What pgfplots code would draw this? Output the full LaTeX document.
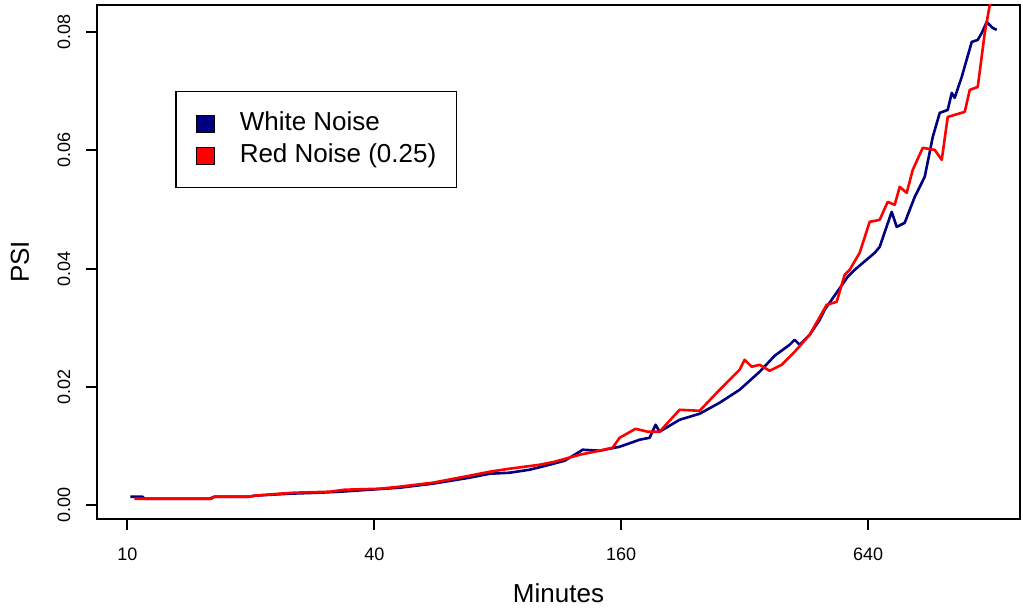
\documentclass[border=0pt]{standalone}
\usepackage{fontspec}
\setmainfont{Liberation Sans}
\usepackage{pgfplots}
\pgfplotsset{compat=1.18}
\definecolor{navy}{RGB}{0,0,128}
\definecolor{rred}{RGB}{255,0,0}
\begin{document}
\begin{tikzpicture}
\begin{axis}[name=ax, scale only axis, width=461.5pt, height=257pt,
  xmode=log, log basis x=2, xmin=8.43, xmax=1502, ymin=-0.0023, ymax=0.08456,
  xtick={10,40,160,640}, xticklabels={10,40,160,640}, minor xtick={},
  ytick={0,0.02,0.04,0.06,0.08}, yticklabels={0.00,0.02,0.04,0.06,0.08},
  scaled y ticks=false,
  tick pos=left, tick align=outside, major tick length=5.5pt,
  axis line style={line width=1pt},
  every tick/.style={black, line width=1pt},
  tick label style={font=\fontsize{9}{10}\selectfont},
  /pgf/number format/assume math mode=true,
  xticklabel style={anchor=center, yshift=-12pt},
  yticklabel style={xshift=-11pt, rotate=90, anchor=center},
  label style={font=\fontsize{13}{15}\selectfont},
  xlabel={Minutes}, ylabel={PSI},
  xlabel style={at={(axis description cs:0.5,-0.144)}, anchor=center},
  ylabel style={at={(axis description cs:-0.0834,0.5)}, anchor=center},
  legend style={at={(rel axis cs:0.0845,0.8327)}, anchor=north west,
    draw=black, line width=0.75pt, inner xsep=10pt, inner ysep=10pt,
    font=\fontsize{13}{15}\selectfont, row sep=4pt, column sep=12.5pt,
    nodes={inner sep=0pt, text height=9.3pt, text depth=2.7pt}},
  legend cell align=left,
  clip=true,
]
\addplot[navy, line width=1.3pt, line join=round,
  legend image code/.code={\draw[fill=navy, draw=black, line width=0.5pt] (0pt,-4.3pt) rectangle (9pt,4.3pt);}]
coordinates {
(10.17,0.00147) (10.88,0.00147) (11.00,0.00113) (15.85,0.00113) (16.30,0.00147)
(19.84,0.00147) (20.41,0.00164) (24.84,0.00198) (29.40,0.00215) (32.90,0.00231)
(38.94,0.00265) (46.09,0.00299) (55.47,0.00367) (68.28,0.00468) (76.40,0.00535)
(85.48,0.00552) (95.64,0.00603) (107.0,0.00687) (116.4,0.00755) (126.7,0.00907)
(128.8,0.00941) (141.7,0.00924) (158.6,0.00991) (177.5,0.01110) (187.7,0.01143)
(194.1,0.01363) (198.5,0.01245) (222.1,0.01447) (248.5,0.01549) (278.1,0.01735)
(311.1,0.01954) (348.1,0.02258) (378.7,0.02528) (411.9,0.02714) (423.7,0.02799)
(435.8,0.02714) (461.0,0.02883) (487.6,0.03136) (501.5,0.03305) (570.7,0.03863)
(593.6,0.03981) (664.2,0.04268) (683.1,0.04369) (730.8,0.04961) (751.6,0.04707)
(786.2,0.04775) (831.7,0.05214) (879.7,0.05552) (920.2,0.06227) (957.0,0.06633)
(1000.9,0.06683) (1023.7,0.06971) (1041.0,0.06886) (1082.8,0.07241) (1145.4,0.07832)
(1184.7,0.07866) (1211.6,0.07984) (1246.1,0.08170) (1288.8,0.08068) (1318.1,0.08035)
};
\addlegendentry{White Noise}
\addplot[rred, line width=1.3pt, line join=round,
  legend image code/.code={\draw[fill=rred, draw=black, line width=0.5pt] (0pt,-4.3pt) rectangle (9pt,4.3pt);}]
coordinates {
(10.40,0.00113) (16.03,0.00113) (16.30,0.00147) (19.84,0.00147) (20.41,0.00164)
(23.49,0.00198) (25.55,0.00215) (31.10,0.00231) (33.84,0.00265) (41.19,0.00282)
(46.09,0.00316) (55.47,0.00383) (68.28,0.00502) (76.40,0.00569) (85.48,0.00620)
(101.2,0.00687) (110.1,0.00738) (126.7,0.00856) (141.7,0.00924) (152.5,0.00975)
(158.6,0.01143) (173.5,0.01295) (185.6,0.01245) (198.5,0.01245) (222.1,0.01616)
(248.5,0.01599) (278.1,0.01954) (311.1,0.02292) (320.0,0.02461) (332.9,0.02343)
(348.1,0.02376) (368.2,0.02275) (393.9,0.02376) (423.7,0.02596) (461.0,0.02883)
(507.2,0.03390) (536.5,0.03440) (561.2,0.03897) (577.1,0.03981) (610.5,0.04268)
(645.8,0.04792) (683.1,0.04825) (714.5,0.05129) (743.2,0.05079) (764.4,0.05383)
(795.1,0.05282) (822.4,0.05670) (869.9,0.06042) (930.5,0.06008) (967.8,0.05839)
(1000.9,0.06565) (1041.0,0.06599) (1101.2,0.06650) (1132.6,0.07021) (1184.7,0.07072)
(1232.2,0.07984) (1267.3,0.08457) (1300.0,0.08800)
};
\addlegendentry{Red Noise (0.25)}
\end{axis}
\pgfresetboundingbox
\path ([xshift=-48.5pt,yshift=-44.5pt]ax.south west) rectangle ([xshift=1.5pt,yshift=2.5pt]ax.north east);
\end{tikzpicture}
\end{document}
